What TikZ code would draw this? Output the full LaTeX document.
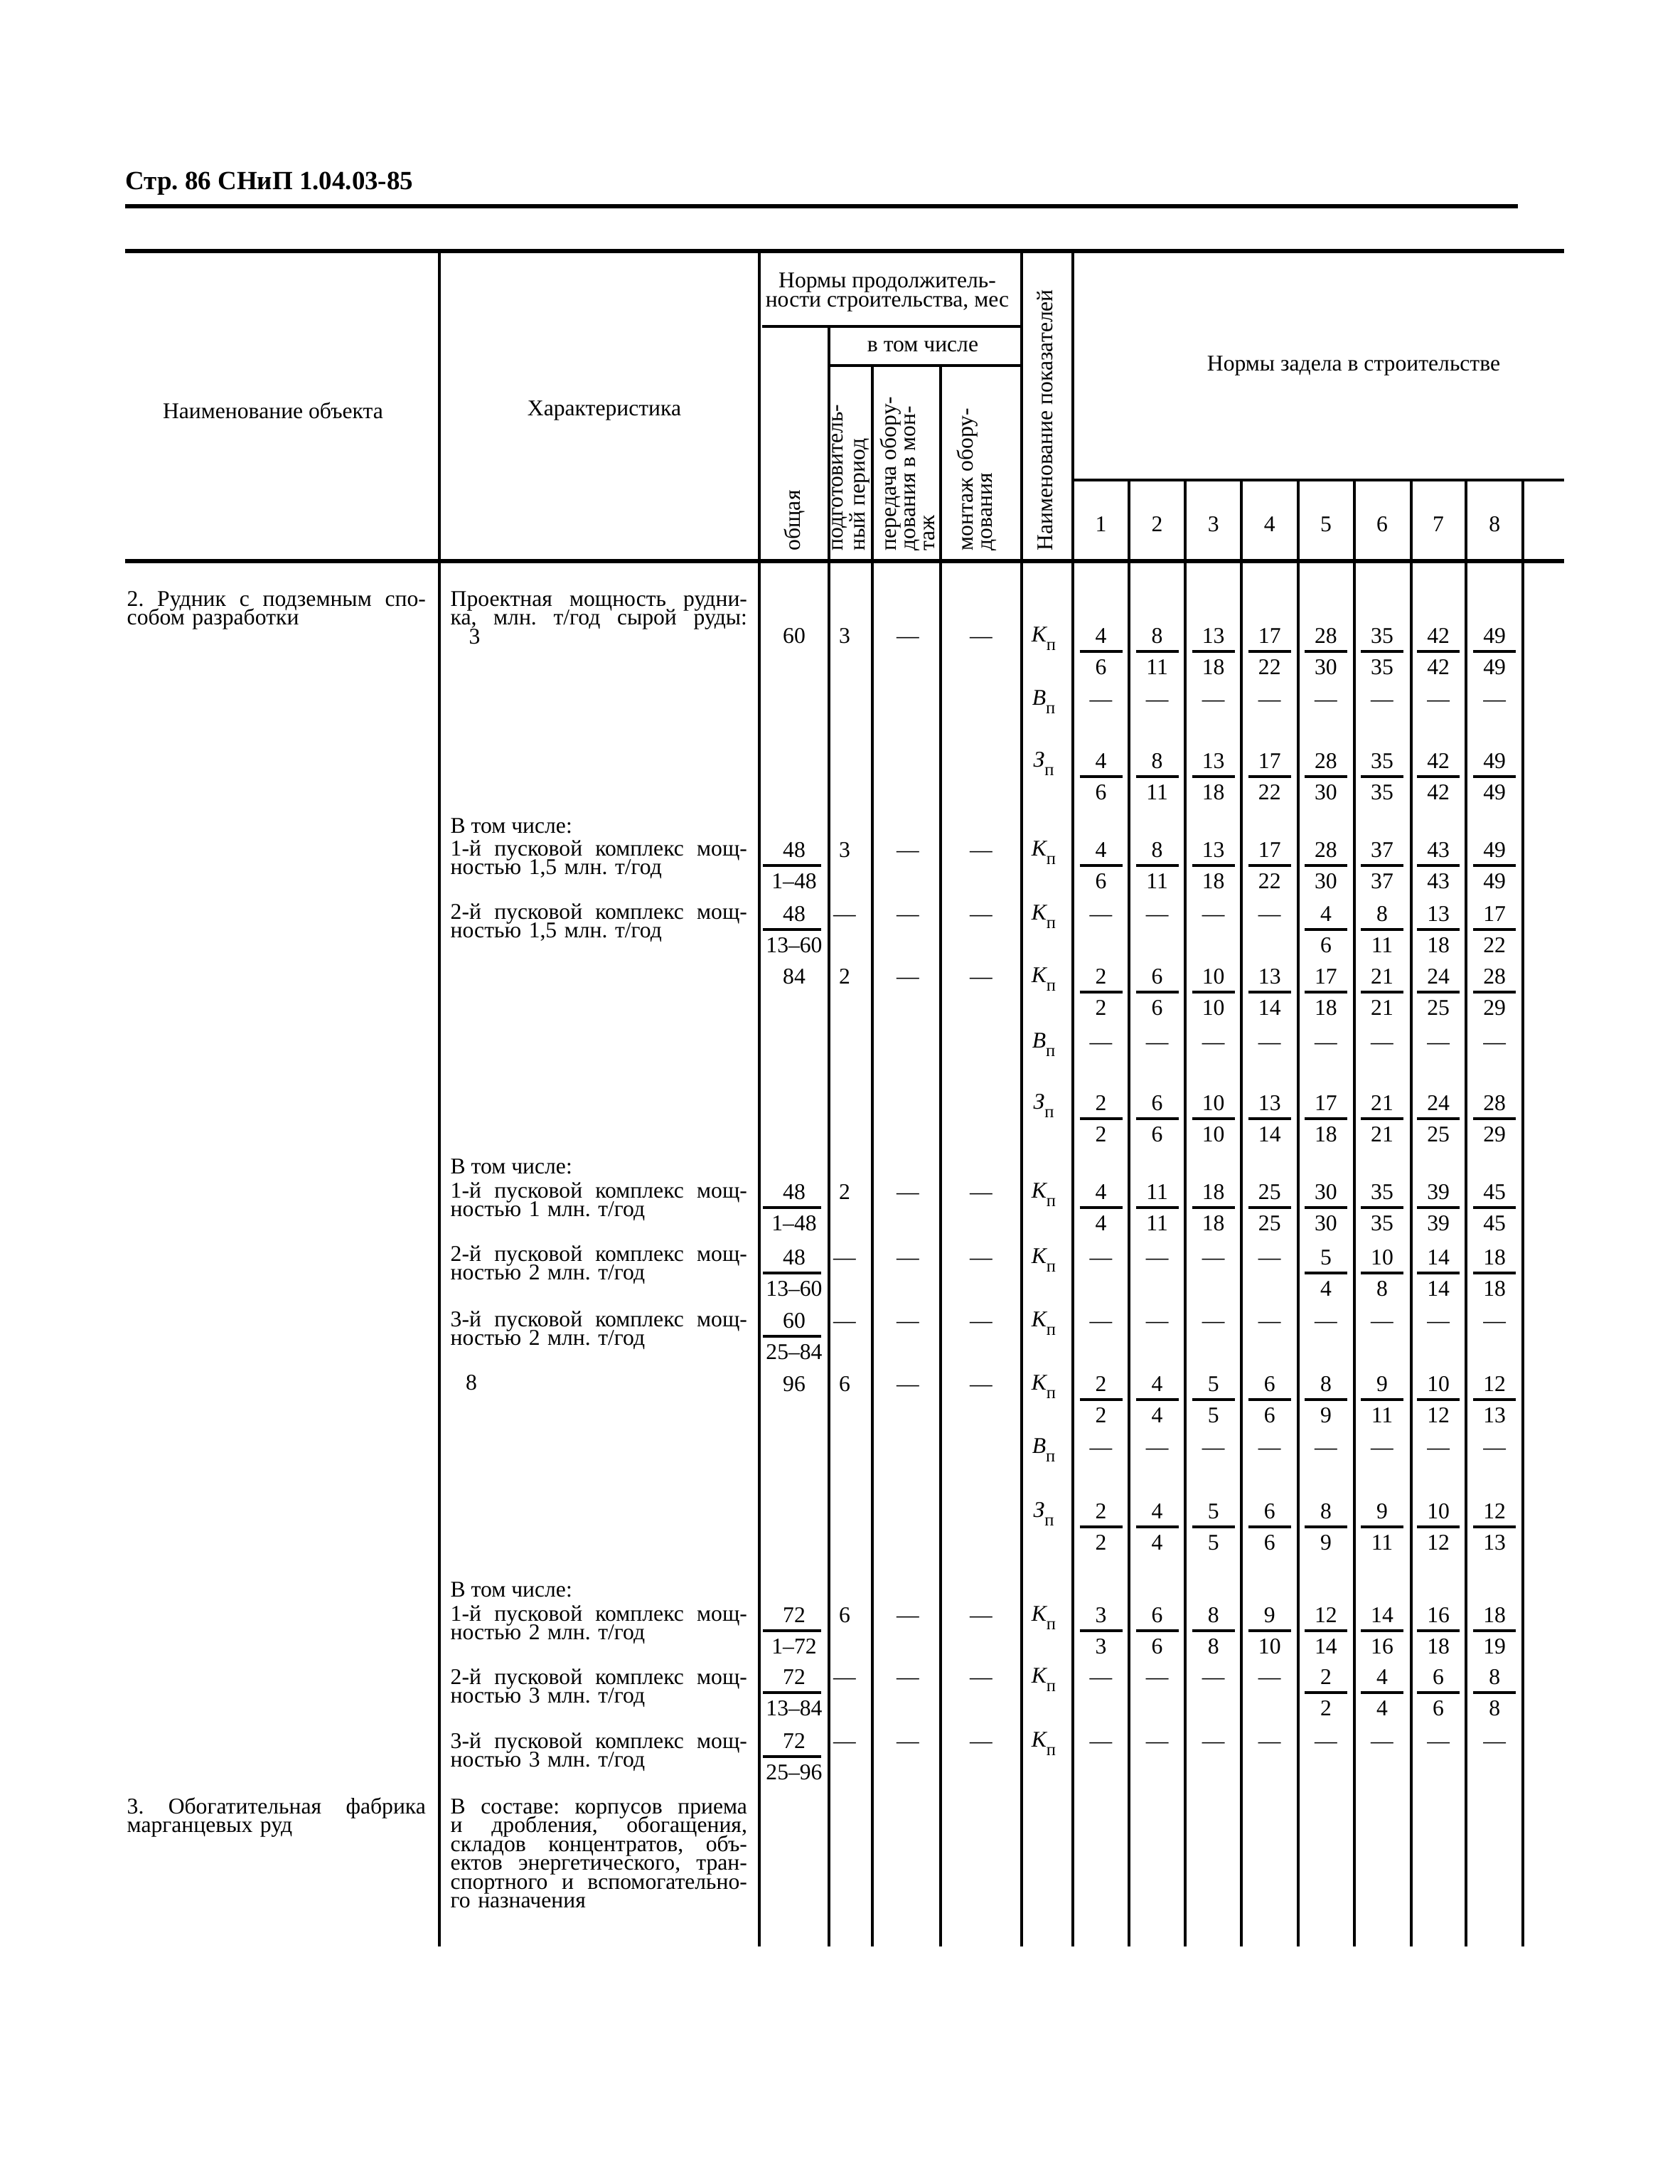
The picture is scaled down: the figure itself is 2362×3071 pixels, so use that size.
\documentclass[tikz,border=0pt]{standalone}
\usepackage{fontspec}
\setmainfont{Liberation Serif}
\usetikzlibrary{positioning, calc}
\frenchspacing

\newcommand{\pokaz}[1]{{\itshape #1}\raisebox{-0.8ex}{\fontsize{7}{7}\selectfont п}}
\newcommand{\jst}[2]{{\spaceskip=0pt\xspaceskip=0pt\makebox[#1][s]{#2}}}
% one row of fractions in the columns 1..8
\newcommand{\fracrow}[4]{%
  \foreach \nm/\dn [count=\c from #3] in {#4} {
    \pgfmathsetmacro{\x}{1548.5+79.1*(\c-1)}
    \node[val] (#1\c) at (\x,#2) {\nm};
    \node[val] (#1\c-d) at (\x,#2+44) {\dn};
    \draw[bar] ($(#1\c)!0.5!(#1\c-d)$) +(-30,0) -- +(30,0);
  }}
\newcommand{\dashrow}[4]{%
  \foreach \c in {#3,...,#4} {
    \pgfmathsetmacro{\x}{1548.5+79.1*(\c-1)}
    \node[val] (#1\c) at (\x,#2) {—};
  }}
% fraction in the column "общая"
\newcommand{\obfrac}[4]{%
  \node[val] (#1) at (1117,#2) {#3};
  \node[val] (#1-d) at (1117,#2+44) {#4};
  \draw[bar] ($(#1)!0.5!(#1-d)$) +(-44,0) -- +(38,0);}
\newcommand{\duration}[3]{%
  \node[val] (#1pp) at (1188,#2) {#3};
  \node[val] (#1pm) at (1277,#2) {—};
  \node[val] (#1mo) at (1380,#2) {—};}

\tikzset{
  every node/.style={inner sep=0pt, font=\fontsize{9}{7.7}\selectfont},
  cell/.style={text height=6.2pt, text depth=0pt},
  val/.style={cell},
  txt/.style={cell, anchor=west},
  lbl/.style={cell, anchor=center},
  para/.style={anchor=base west, align=left, text width=4.20cm,
    font={\fontsize{9}{7.55}\selectfont\lineskiplimit=-\maxdimen}},
  hdr/.style={align=center},
  vert/.style={rotate=90, anchor=west, align=left},
  tabline/.style={line width=0.9pt},
  heavy/.style={line width=1.7pt},
  bar/.style={line width=1.1pt},
}

\begin{document}
\begin{tikzpicture}[x=0.01cm, y=-0.01cm]
  \useasboundingbox (0,0) rectangle (2362,3071);

  \node[txt, font=\bfseries\fontsize{10.5}{11}\selectfont] (page) at (176,256) {Стр. 86 СНиП 1.04.03-85};
  \draw[heavy] (176,290) -- (2135,290);

  % rules of the table
  \draw[heavy] (176,353) -- (2200,353);
  \draw[heavy] (176,789) -- (2200,789);
  \draw[tabline] (1072,459) -- (1437,459);
  \draw[tabline] (1166,514) -- (1437,514);
  \draw[tabline] (1509,675) -- (2200,675);
  \foreach \x in {618,1068,1437,1509} \draw[tabline] (\x,353) -- (\x,2737);
  \draw[tabline] (1166,459) -- (1166,2737);
  \foreach \x in {1227,1323} \draw[tabline] (\x,514) -- (\x,2737);
  \foreach \x in {1588,1667,1746,1826,1905,1985,2062,2142} \draw[tabline] (\x,675) -- (\x,2737);

  % head
  \node[hdr] (name) at (384,577) {Наименование объекта};
  \node[hdr] (char) at (850,577) {Характеристика};
  \node[hdr] (dur) at (1248,411) {Нормы продолжитель-\\ности строительства, мес};
  \node[hdr] (incl) at (1298,487) {в том числе};
  \node[hdr] (zadel) at (1904,514) {Нормы задела в строительстве};
  \node[vert] (total) at (1117,775) {общая};
  \node[vert] (prep) at (1197,775) {подготовитель-\\ный период};
  \node[vert] (trans) at (1276,775) {передача обору-\\дования в мон-\\таж};
  \node[vert] (mount) at (1374,775) {монтаж обору-\\дования};
  \node[vert] (indic) at (1470,775) {Наименование показателей};
  \foreach \c in {1,...,8} {
    \pgfmathsetmacro{\x}{1548.5+79.1*(\c-1)}
    \node[val] (h\c) at (\x,737) {\c};
  }

  % objects
  \node[para] (obj2) at (178,852) {\jst{4.20cm}{2. Рудник с подземным спо-}\\собом разработки};
  \node[para] (obj3) at (178,2550) {\jst{4.20cm}{3. Обогатительная фабрика}\\марганцевых руд};

  % characteristics
  \node[para] (ch1) at (633,852) {\jst{4.17cm}{Проектная мощность рудни-}\\
    \jst{4.17cm}{ка, млн. т/год сырой руды:}\\\hspace*{0.26cm}3};
  \node[txt] (ch2) at (633,1161) {В том числе:};
  \node[para] (ch3) at (633,1203) {\jst{4.17cm}{1-й пусковой комплекс мощ-}\\ностью 1,5 млн. т/год};
  \node[para] (ch4) at (633,1292) {\jst{4.17cm}{2-й пусковой комплекс мощ-}\\ностью 1,5 млн. т/год};
  \node[txt] (ch5) at (633,1640) {В том числе:};
  \node[para] (ch6) at (633,1684) {\jst{4.17cm}{1-й пусковой комплекс мощ-}\\ностью 1 млн. т/год};
  \node[para] (ch7) at (633,1773) {\jst{4.17cm}{2-й пусковой комплекс мощ-}\\ностью 2 млн. т/год};
  \node[para] (ch8) at (633,1865) {\jst{4.17cm}{3-й пусковой комплекс мощ-}\\ностью 2 млн. т/год};
  \node[val] (ch9) at (663,1944) {8};
  \node[txt] (ch10) at (633,2235) {В том числе:};
  \node[para] (ch11) at (633,2279) {\jst{4.17cm}{1-й пусковой комплекс мощ-}\\ностью 2 млн. т/год};
  \node[para] (ch12) at (633,2368) {\jst{4.17cm}{2-й пусковой комплекс мощ-}\\ностью 3 млн. т/год};
  \node[para] (ch13) at (633,2458) {\jst{4.17cm}{3-й пусковой комплекс мощ-}\\ностью 3 млн. т/год};
  \node[para] (ch14) at (633,2550) {\jst{4.17cm}{В составе: корпусов приема}\\
    \jst{4.17cm}{и дробления, обогащения,}\\
    \jst{4.17cm}{складов концентратов, объ-}\\
    \jst{4.17cm}{ектов энергетического, тран-}\\
    \jst{4.17cm}{спортного и вспомогательно-}\\
    го назначения};

  % durations
  \node[val] (oa) at (1117,894) {60};
  \duration{a}{894}{3}
  \obfrac{od}{1195}{48}{1–48}
  \duration{d}{1195}{3}
  \obfrac{oe}{1285}{48}{13–60}
  \duration{e}{1285}{—}
  \node[val] (of) at (1117,1373) {84};
  \duration{f}{1373}{2}
  \obfrac{oi}{1676}{48}{1–48}
  \duration{i}{1676}{2}
  \obfrac{oj}{1768}{48}{13–60}
  \duration{j}{1768}{—}
  \obfrac{ok}{1857}{60}{25–84}
  \duration{k}{1857}{—}
  \node[val] (ol) at (1117,1946) {96};
  \duration{l}{1946}{6}
  \obfrac{oo}{2271}{72}{1–72}
  \duration{o}{2271}{6}
  \obfrac{op}{2358}{72}{13–84}
  \duration{p}{2358}{—}
  \obfrac{oq}{2448}{72}{25–96}
  \duration{q}{2448}{—}

  % indicators
  \foreach \s/\y [count=\r] in {К/894, В/983, З/1070, К/1195, К/1285, К/1373, В/1465, З/1551,
      К/1676, К/1768, К/1857, К/1946, В/2035, З/2125, К/2271, К/2358, К/2448}
    \node[lbl] (lab\r) at (1468,\y-2) {\pokaz{\s}};

  % norms
  \fracrow{a}{894}{1}{4/6,8/11,13/18,17/22,28/30,35/35,42/42,49/49}
  \dashrow{b}{983}{1}{8}
  \fracrow{c}{1070}{1}{4/6,8/11,13/18,17/22,28/30,35/35,42/42,49/49}
  \fracrow{d}{1195}{1}{4/6,8/11,13/18,17/22,28/30,37/37,43/43,49/49}
  \dashrow{e}{1285}{1}{4}
  \fracrow{e}{1285}{5}{4/6,8/11,13/18,17/22}
  \fracrow{f}{1373}{1}{2/2,6/6,10/10,13/14,17/18,21/21,24/25,28/29}
  \dashrow{g}{1465}{1}{8}
  \fracrow{h}{1551}{1}{2/2,6/6,10/10,13/14,17/18,21/21,24/25,28/29}
  \fracrow{i}{1676}{1}{4/4,11/11,18/18,25/25,30/30,35/35,39/39,45/45}
  \dashrow{j}{1768}{1}{4}
  \fracrow{j}{1768}{5}{5/4,10/8,14/14,18/18}
  \dashrow{k}{1857}{1}{8}
  \fracrow{l}{1946}{1}{2/2,4/4,5/5,6/6,8/9,9/11,10/12,12/13}
  \dashrow{m}{2035}{1}{8}
  \fracrow{n}{2125}{1}{2/2,4/4,5/5,6/6,8/9,9/11,10/12,12/13}
  \fracrow{o}{2271}{1}{3/3,6/6,8/8,9/10,12/14,14/16,16/18,18/19}
  \dashrow{p}{2358}{1}{4}
  \fracrow{p}{2358}{5}{2/2,4/4,6/6,8/8}
  \dashrow{q}{2448}{1}{8}
\end{tikzpicture}
\end{document}
